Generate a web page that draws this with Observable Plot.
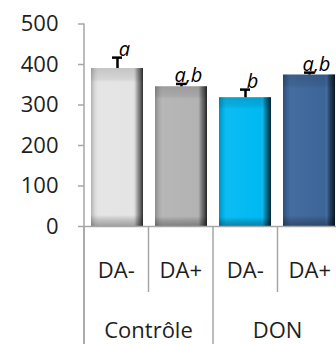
<!DOCTYPE html>
<html>
<head>
<meta charset="utf-8">
<script src="https://cdn.jsdelivr.net/npm/d3@7"></script>
<script src="https://cdn.jsdelivr.net/npm/@observablehq/plot@0.6"></script>
<style>
  html, body { margin: 0; padding: 0; background: #fff; }
  #chart { width: 336px; height: 344px; overflow: hidden; }
</style>
</head>
<body>
<div id="chart"></div>
<script>
// ---- data ----
const groups = ["Contrôle", "Contrôle", "DON", "DON"];
const treatments = ["DA-", "DA+", "DA-", "DA+"];
const means = [390, 345, 318, 374];
const errTops = [417, 352, 338, 380];
const letters = ["a", "a,b", "b", "a,b"];
const barColors = ["#e4e4e4", "#b3b3b3", "#00b9f2", "#3c6599"];
const yTicks = [0, 100, 200, 300, 400, 500];

const data = means.map((m, i) => ({
  key: groups[i] + " " + treatments[i],
  group: groups[i],
  treat: treatments[i],
  mean: m,
  err: errTops[i],
  letter: letters[i],
  color: barColors[i]
}));

const font = "'Open Sans', 'DejaVu Sans', sans-serif";
const axisGray = "#a6a6a6";

const plot = Plot.plot({
  width: 336,
  height: 344,
  marginLeft: 84,
  marginRight: 0,
  marginTop: 23.5,
  marginBottom: 118,
  style: { fontFamily: font, fontSize: "22px", color: "#1e1e1e", background: "#fff" },
  x: { domain: data.map(d => d.key), range: [84, 342], padding: 0, axis: null },
  y: { domain: [0, 500], range: [226, 23.5], ticks: yTicks, tickSize: 6, tickPadding: 20, label: null },
  color: { type: "identity" },
  marks: [
    Plot.barY(data, { x: "key", y: "mean", fill: "color", insetLeft: 6, insetRight: 6 }),
    Plot.barY(data, { x: "key", y: "mean", fill: "url(#hgrad)", insetLeft: 6, insetRight: 6 }),
    Plot.barY(data, { x: "key", y: "mean", fill: "url(#vgrad)", insetLeft: 6, insetRight: 6 }),
    Plot.ruleY([0], { stroke: axisGray, strokeWidth: 1.5 }),
    Plot.ruleX(data, { x: "key", y1: "mean", y2: "err", stroke: "#000", strokeWidth: 2.5 }),
    Plot.tickY(data, { x: "key", y: "err", stroke: "#000", strokeWidth: 2.5, insetLeft: 27, insetRight: 27 }),
    Plot.text(data, {
      x: "key", y: "err", text: "letter", textAnchor: "middle", lineAnchor: "bottom",
      dx: 7, dy: -2, fontStyle: "italic", fontSize: 20, fill: "#000"
    })
  ]
});

document.getElementById("chart").appendChild(plot);

// ---- post-processing: gradients, axis styling, hierarchical x axis ----
const svg = d3.select(plot.tagName.toLowerCase() === "svg" ? plot : plot.querySelector("svg"));
const defs = svg.insert("defs", ":first-child");
const hg = defs.append("linearGradient").attr("id", "hgrad")
  .attr("x1", 0).attr("y1", 0).attr("x2", 1).attr("y2", 0);
[[0, "#000", 0.22], [0.07, "#000", 0.06], [0.14, "#fff", 0.05], [0.8, "#fff", 0.0],
 [0.88, "#000", 0.25], [0.95, "#000", 0.55], [1, "#000", 0.8]]
  .forEach(([o, c, a]) => hg.append("stop").attr("offset", o).attr("stop-color", c).attr("stop-opacity", a));
const vg = defs.append("linearGradient").attr("id", "vgrad")
  .attr("x1", 0).attr("y1", 0).attr("x2", 0).attr("y2", 1);
[[0, "#000", 0.14], [0.07, "#000", 0.07], [0.09, "#000", 0], [0.93, "#000", 0],
 [0.96, "#000", 0.15], [1, "#000", 0.3]]
  .forEach(([o, c, a]) => vg.append("stop").attr("offset", o).attr("stop-color", c).attr("stop-opacity", a));

// y axis styling
svg.selectAll('[aria-label^="y-axis"] line, [aria-label^="y-axis"] path')
  .attr("stroke", axisGray).attr("stroke-width", 1.5);
svg.selectAll('[aria-label^="y-axis"] text').attr("fill", "#1e1e1e");

const xs = plot.scale("x");
const ys = plot.scale("y");
const band = d3.scaleBand().domain(xs.domain).range(xs.range).padding(0);
const yPx = d3.scaleLinear().domain(ys.domain).range(ys.range);
const y0 = yPx(0);
const g = svg.append("g").attr("font-family", font).attr("fill", "#1e1e1e");

// y axis line continuing down through the category axis
g.append("line").attr("x1", xs.range[0]).attr("x2", xs.range[0])
  .attr("y1", yPx(d3.max(yTicks))).attr("y2", 344)
  .attr("stroke", axisGray).attr("stroke-width", 1.5);

data.forEach((d, i) => {
  const x0 = band(d.key);
  const newGroup = i === 0 || data[i - 1].group !== d.group;
  g.append("line").attr("x1", x0).attr("x2", x0).attr("y1", y0)
    .attr("y2", newGroup ? 344 : y0 + 66)
    .attr("stroke", axisGray).attr("stroke-width", 1.5);
  g.append("text").attr("x", x0 + band.bandwidth() / 2).attr("y", y0 + 52)
    .attr("text-anchor", "middle").attr("font-size", 22).text(d.treat);
});
g.append("line").attr("x1", xs.range[1]).attr("x2", xs.range[1]).attr("y1", y0).attr("y2", 344)
  .attr("stroke", axisGray).attr("stroke-width", 1.5);

d3.groups(data, d => d.group).forEach(([name, rows]) => {
  const a = band(rows[0].key);
  const b = band(rows[rows.length - 1].key) + band.bandwidth();
  g.append("text").attr("x", (a + b) / 2).attr("y", y0 + 112)
    .attr("text-anchor", "middle").attr("font-size", 22).text(name);
});
</script>
</body>
</html>
